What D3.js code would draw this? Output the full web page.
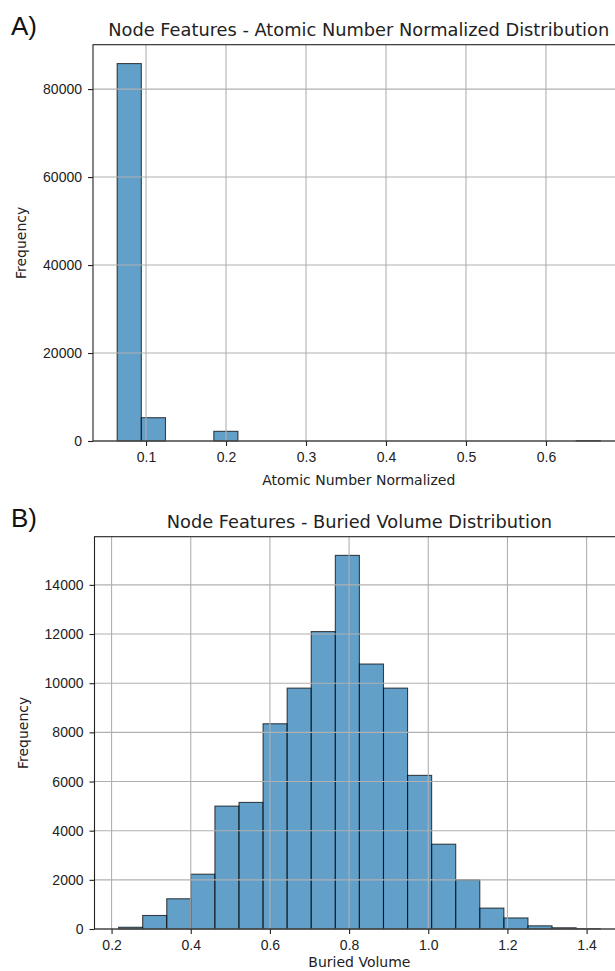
<!DOCTYPE html>
<html>
<head>
<meta charset="utf-8">
<script src="https://cdn.jsdelivr.net/npm/d3@7"></script>
<style>
  html, body { margin: 0; padding: 0; background: #fff; }
  svg { display: block; font-family: "DejaVu Sans", sans-serif; }
</style>
</head>
<body>
<svg id="fig" width="615" height="971"></svg>
<script>
// Histogram of normalized atomic numbers: range of the data and counts in 20 equal bins
const atomicRange = [0.0639, 0.668];
const atomicCounts = [85800, 5300, 0, 0, 2200, 0, 0, 0, 0, 0, 0, 0, 0, 0, 0, 0, 0, 0, 0, 100];
const atomicXTicks = [0.1, 0.2, 0.3, 0.4, 0.5, 0.6];
const atomicYTicks = [0, 20000, 40000, 60000, 80000];

// Histogram of buried volume: range of the data and counts in 20 equal bins
const buriedRange = [0.2177, 1.4344];
const buriedCounts = [70, 550, 1230, 2230, 5000, 5150, 8350, 9800, 12100, 15200, 10780, 9800, 6250, 3450, 2000, 850, 450, 130, 50, 15];
const buriedXTicks = [0.2, 0.4, 0.6, 0.8, 1.0, 1.2, 1.4];
const buriedYTicks = [0, 2000, 4000, 6000, 8000, 10000, 12000, 14000];

const svg = d3.select("#fig");

function drawPanel(cfg) {
  const { box, range, counts, xTicks, yTicks, title, xLabel, tag, xFmt } = cfg;
  const nBins = counts.length;
  const binW = (range[1] - range[0]) / nBins;
  const bins = counts.map((c, i) => ({ x0: range[0] + i * binW, x1: range[0] + (i + 1) * binW, n: c }));

  // matplotlib-style 5% margins around the data
  const x = d3.scaleLinear()
    .domain([range[0] - binW, range[1] + binW])
    .range([box.left, box.right]);
  const y = d3.scaleLinear()
    .domain([0, d3.max(counts) * 1.05])
    .range([box.bottom, box.top]);

  const g = svg.append("g");

  // bars
  g.append("g").selectAll("rect").data(bins).join("rect")
    .attr("x", d => x(d.x0))
    .attr("width", d => x(d.x1) - x(d.x0))
    .attr("y", d => y(d.n))
    .attr("height", d => y(0) - y(d.n))
    .attr("fill", "rgba(31,119,180,0.7)")
    .attr("stroke", "rgba(0,0,0,0.7)")
    .attr("stroke-width", 1.1);

  // grid
  const grid = g.append("g").attr("stroke", "#b0b0b0").attr("stroke-width", 1.1);
  grid.selectAll("line.v").data(xTicks).join("line")
    .attr("class", "v")
    .attr("x1", d => x(d)).attr("x2", d => x(d))
    .attr("y1", box.top).attr("y2", box.bottom);
  grid.selectAll("line.h").data(yTicks).join("line")
    .attr("class", "h")
    .attr("x1", box.left).attr("x2", box.right)
    .attr("y1", d => y(d)).attr("y2", d => y(d));

  // axes
  const xAxis = d3.axisBottom(x).tickValues(xTicks).tickSize(5).tickPadding(6).tickFormat(xFmt);
  const yAxis = d3.axisLeft(y).tickValues(yTicks).tickSize(5).tickPadding(6).tickFormat(d3.format("d"));

  const gx = g.append("g").attr("transform", `translate(0,${box.bottom})`).call(xAxis);
  const gy = g.append("g").attr("transform", `translate(${box.left},0)`).call(yAxis);
  [gx, gy].forEach(a => {
    a.select(".domain").remove();
    a.selectAll(".tick line").attr("stroke", "#222").attr("stroke-width", 1.1);
    a.selectAll(".tick text").attr("fill", "#222").attr("font-size", 14);
  });

  // spines
  g.append("rect")
    .attr("x", box.left).attr("y", box.top)
    .attr("width", box.right - box.left).attr("height", box.bottom - box.top)
    .attr("fill", "none").attr("stroke", "#222").attr("stroke-width", 1.1);

  // titles and labels
  const cx = (box.left + box.right) / 2;
  g.append("text").attr("x", cx).attr("y", box.top - 9)
    .attr("text-anchor", "middle").attr("font-size", 17.8).attr("fill", "#222")
    .text(title);
  g.append("text").attr("x", cx).attr("y", box.bottom + cfg.xLabelDy)
    .attr("text-anchor", "middle").attr("font-size", 14).attr("fill", "#222")
    .text(xLabel);
  g.append("text")
    .attr("transform", `translate(${cfg.yLabelX},${(box.top + box.bottom) / 2}) rotate(-90)`)
    .attr("text-anchor", "middle").attr("font-size", 14).attr("fill", "#222")
    .text("Frequency");
  g.append("text").attr("x", 11).attr("y", box.top - 10)
    .attr("font-family", "Liberation Sans, Arial, sans-serif")
    .attr("font-size", 26).attr("fill", "#111")
    .text(tag);
}

drawPanel({
  box: { left: 93, right: 624.5, top: 44.7, bottom: 441 },
  range: atomicRange, counts: atomicCounts,
  xTicks: atomicXTicks, yTicks: atomicYTicks,
  xFmt: d3.format(".1f"),
  title: "Node Features - Atomic Number Normalized Distribution",
  xLabel: "Atomic Number Normalized",
  xLabelDy: 44, yLabelX: 26, tag: "A)"
});

drawPanel({
  box: { left: 94.5, right: 624.3, top: 536.7, bottom: 929 },
  range: buriedRange, counts: buriedCounts,
  xTicks: buriedXTicks, yTicks: buriedYTicks,
  xFmt: d3.format(".1f"),
  title: "Node Features - Buried Volume Distribution",
  xLabel: "Buried Volume",
  xLabelDy: 38, yLabelX: 28, tag: "B)"
});
</script>
</body>
</html>
